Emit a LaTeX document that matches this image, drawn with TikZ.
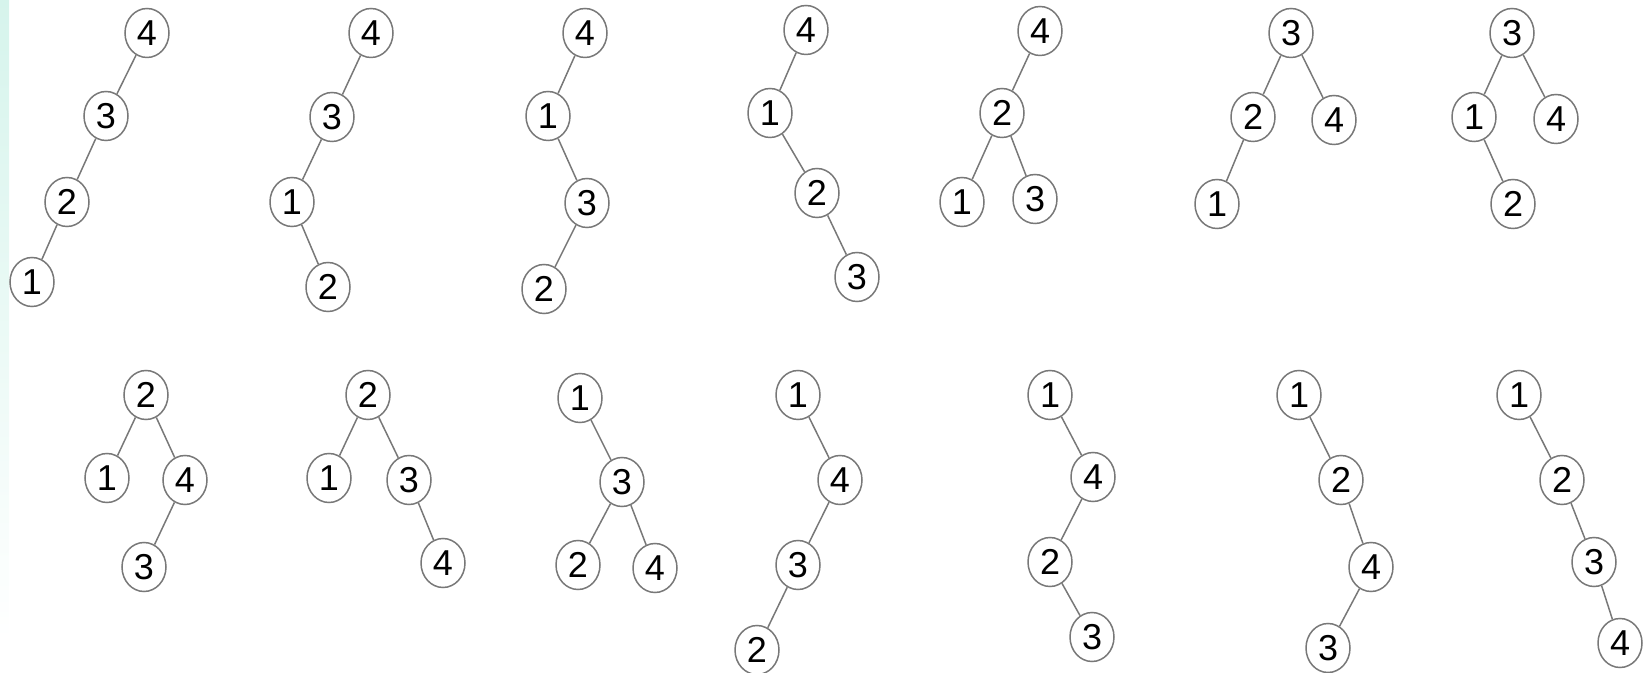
\documentclass[tikz,border=0pt]{standalone}
\usepackage{fontspec}
\setmainfont{Liberation Sans}
\usetikzlibrary{shapes.geometric}
\definecolor{mint}{RGB}{214,244,236}
\definecolor{edgegray}{RGB}{120,120,120}
\tikzset{
  bstnode/.style={ellipse, draw=edgegray, line width=0.75pt, inner sep=0pt,
    minimum width=22pt, minimum height=24.5pt, font=\fontsize{18}{18}\selectfont},
  bstedge/.style={draw=edgegray, line width=0.75pt}
}
\begin{document}
\begin{tikzpicture}[x=0.5pt,y=-0.5pt]
\useasboundingbox (0,0) rectangle (1644,673);
\shade[top color=mint, bottom color=white] (0,0) rectangle (9,640);
% first row
\node[bstnode] (a4) at (147,33) {4};
\node[bstnode] (a3) at (106,116) {3};
\node[bstnode] (a2) at (67,202) {2};
\node[bstnode] (a1) at (32,282) {1};
\draw[bstedge] (a4) -- (a3) (a3) -- (a2) (a2) -- (a1);
\node[bstnode] (b4) at (371,33) {4};
\node[bstnode] (b3) at (332,117) {3};
\node[bstnode] (b1) at (292,202) {1};
\node[bstnode] (b2) at (328,287) {2};
\draw[bstedge] (b4) -- (b3) (b3) -- (b1) (b1) -- (b2);
\node[bstnode] (c4) at (585,33) {4};
\node[bstnode] (c1) at (548,116) {1};
\node[bstnode] (c3) at (587,203) {3};
\node[bstnode] (c2) at (544,289) {2};
\draw[bstedge] (c4) -- (c1) (c1) -- (c3) (c3) -- (c2);
\node[bstnode] (d4) at (806,30) {4};
\node[bstnode] (d1) at (770,113) {1};
\node[bstnode] (d2) at (817,193) {2};
\node[bstnode] (d3) at (857,277) {3};
\draw[bstedge] (d4) -- (d1) (d1) -- (d2) (d2) -- (d3);
\node[bstnode] (e4) at (1040,31) {4};
\node[bstnode] (e2) at (1002,113) {2};
\node[bstnode] (e1) at (962,202) {1};
\node[bstnode] (e3) at (1035,199) {3};
\draw[bstedge] (e4) -- (e2) (e2) -- (e1) (e2) -- (e3);
\node[bstnode] (f3) at (1291,33) {3};
\node[bstnode] (f2) at (1253,117) {2};
\node[bstnode] (f4) at (1334,120) {4};
\node[bstnode] (f1) at (1217,204) {1};
\draw[bstedge] (f3) -- (f2) (f3) -- (f4) (f2) -- (f1);
\node[bstnode] (g3) at (1512,33) {3};
\node[bstnode] (g1) at (1474,117) {1};
\node[bstnode] (g4) at (1556,119) {4};
\node[bstnode] (g2) at (1513,204) {2};
\draw[bstedge] (g3) -- (g1) (g3) -- (g4) (g1) -- (g2);
% second row
\node[bstnode] (h2) at (146,395) {2};
\node[bstnode] (h1) at (107,478) {1};
\node[bstnode] (h4) at (185,480) {4};
\node[bstnode] (h3) at (144,567) {3};
\draw[bstedge] (h2) -- (h1) (h2) -- (h4) (h4) -- (h3);
\node[bstnode] (i2) at (368,395) {2};
\node[bstnode] (i1) at (329,478) {1};
\node[bstnode] (i3) at (409,480) {3};
\node[bstnode] (i4) at (443,563) {4};
\draw[bstedge] (i2) -- (i1) (i2) -- (i3) (i3) -- (i4);
\node[bstnode] (j1) at (580,398) {1};
\node[bstnode] (j3) at (622,482) {3};
\node[bstnode] (j2) at (578,565) {2};
\node[bstnode] (j4) at (655,568) {4};
\draw[bstedge] (j1) -- (j3) (j3) -- (j2) (j3) -- (j4);
\node[bstnode] (k1) at (798,395) {1};
\node[bstnode] (k4) at (840,480) {4};
\node[bstnode] (k3) at (798,565) {3};
\node[bstnode] (k2) at (757,650) {2};
\draw[bstedge] (k1) -- (k4) (k4) -- (k3) (k3) -- (k2);
\node[bstnode] (l1) at (1050,395) {1};
\node[bstnode] (l4) at (1093,477) {4};
\node[bstnode] (l2) at (1050,562) {2};
\node[bstnode] (l3) at (1092,637) {3};
\draw[bstedge] (l1) -- (l4) (l4) -- (l2) (l2) -- (l3);
\node[bstnode] (m1) at (1299,395) {1};
\node[bstnode] (m2) at (1341,480) {2};
\node[bstnode] (m4) at (1371,567) {4};
\node[bstnode] (m3) at (1328,648) {3};
\draw[bstedge] (m1) -- (m2) (m2) -- (m4) (m4) -- (m3);
\node[bstnode] (n1) at (1519,395) {1};
\node[bstnode] (n2) at (1562,480) {2};
\node[bstnode] (n3) at (1594,562) {3};
\node[bstnode] (n4) at (1620,643) {4};
\draw[bstedge] (n1) -- (n2) (n2) -- (n3) (n3) -- (n4);
\end{tikzpicture}
\end{document}
